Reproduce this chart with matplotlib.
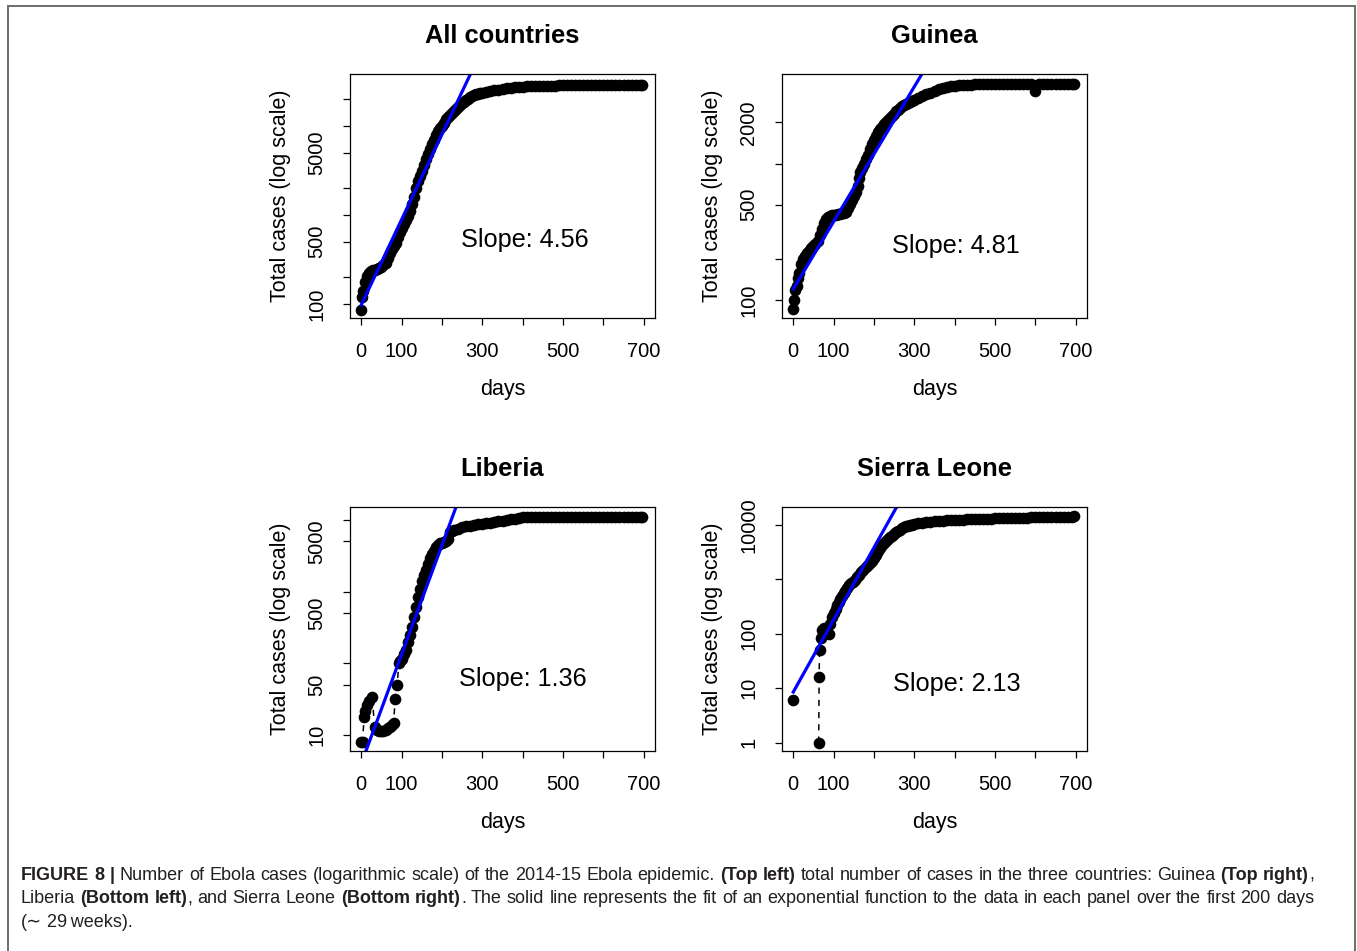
import numpy as np
import matplotlib
matplotlib.use('Agg')
import matplotlib.pyplot as plt
from matplotlib.patches import Rectangle

plt.rcParams['font.family'] = ['Liberation Sans', 'DejaVu Sans']

# panel titles and the slope printed in each panel
titles = ['All countries', 'Guinea', 'Liberia', 'Sierra Leone']
slopes = ['4.56', '4.81', '1.36', '2.13']

# all countries (top left)
days_all = [0, 2, 5, 10, 15, 20, 25, 30, 35, 40, 45, 50, 55, 60, 65, 70, 75, 80, 85, 90,
            95, 100, 105, 110, 115, 120, 125, 130, 135, 140, 145, 150, 155, 160, 165, 170,
            175, 180, 185, 190, 195, 200, 205, 210, 215, 220, 225, 230, 235, 240, 245, 250,
            255, 260, 265, 270, 275, 280, 285, 290, 295, 300, 310, 320, 330, 340, 350, 360,
            370, 380, 390, 400, 410, 420, 430, 440, 450, 460, 470, 480, 490, 500, 510, 520,
            530, 540, 550, 560, 570, 580, 590, 600, 610, 620, 630, 640, 650, 660, 670, 680,
            690, 697]
cases_all = [86, 119, 140, 178, 205, 225, 232, 238, 243, 248, 252, 262, 272, 285, 330, 375,
             410, 445, 480, 560, 640, 710, 790, 870, 980, 1100, 1320, 1600, 1980, 2380, 2700,
             3100, 3650, 4200, 4800, 5500, 6300, 7000, 7800, 8700, 9400, 10000, 10700, 11900,
             12500, 13300, 14000, 14700, 15300, 16200, 17000, 17800, 18600, 19400, 20200,
             20900, 21500, 22000, 22500, 22900, 23300, 23600, 24000, 24500, 25000, 25500,
             25900, 26300, 26700, 27000, 27300, 27500, 27700, 27800, 27900, 28000, 28100,
             28200, 28250, 28300, 28350, 28400, 28420, 28440, 28460, 28480, 28500, 28510,
             28520, 28530, 28540, 28550, 28560, 28570, 28580, 28590, 28600, 28610, 28620,
             28630, 28640, 28650]

# Guinea (top right)
days_gn = [0, 2, 5, 8, 12, 15, 20, 25, 30, 35, 40, 45, 50, 55, 60, 65, 70, 75, 80, 85, 90,
           95, 100, 105, 110, 115, 120, 125, 130, 135, 140, 145, 150, 155, 160, 163, 165, 170,
           175, 180, 185, 190, 195, 200, 205, 210, 215, 220, 225, 230, 235, 240, 245, 250,
           255, 260, 265, 270, 275, 280, 285, 290, 295, 300, 310, 320, 330, 340, 350, 360,
           370, 380, 390, 400, 410, 420, 430, 440, 450, 460, 470, 480, 490, 500, 510, 520,
           530, 540, 550, 560, 570, 580, 590, 600, 610, 620, 630, 640, 650, 660, 670, 680,
           690, 697]
cases_gn = [86, 101, 120, 127, 145, 158, 185, 200, 210, 220, 230, 240, 250, 260, 272, 300,
            335, 365, 390, 405, 415, 420, 420, 422, 425, 428, 432, 435, 445, 470, 505, 540,
            575, 620, 680, 780, 870, 930, 1000, 1080, 1160, 1280, 1400, 1480, 1580, 1700,
            1780, 1850, 1930, 2010, 2080, 2160, 2240, 2320, 2400, 2470, 2550, 2620, 2680,
            2720, 2760, 2800, 2850, 2900, 3000, 3100, 3200, 3300, 3400, 3500, 3560, 3620,
            3660, 3700, 3720, 3740, 3760, 3770, 3780, 3785, 3790, 3795, 3800, 3800, 3800,
            3800, 3802, 3802, 3804, 3804, 3804, 3804, 3804, 3370, 3804, 3804, 3804, 3804,
            3805, 3805, 3805, 3806, 3806, 3806]

# Liberia (bottom left)
days_lr = [0, 3, 7, 10, 14, 20, 27, 33, 40, 45, 50, 55, 60, 65, 70, 75, 80, 84, 89, 93, 97,
           100, 105, 110, 115, 120, 125, 130, 135, 140, 145, 150, 155, 160, 165, 170, 175,
           180, 185, 190, 195, 200, 205, 210, 215, 220, 225, 230, 240, 250, 260, 270, 280,
           290, 300, 310, 320, 330, 340, 350, 360, 370, 380, 390, 400, 410, 420, 430, 440,
           450, 460, 470, 480, 490, 500, 510, 520, 530, 540, 550, 560, 570, 580, 590, 600,
           610, 620, 630, 640, 650, 660, 670, 680, 690, 697]
cases_lr = [8, 8, 18, 22, 26, 30, 34, 13, 12, 11.5, 11.5, 11.5, 12, 12.5, 13, 14, 15, 32, 50,
            100, 108, 115, 135, 155, 200, 250, 320, 440, 600, 850, 1100, 1400, 1700, 2000,
            2400, 2900, 3300, 3700, 4100, 4500, 4700, 4800, 4900, 5100, 5300, 6800, 6950,
            7100, 7400, 7800, 8050, 8250, 8450, 8650, 8800, 8950, 9100, 9300, 9450, 9650,
            9850, 10050, 10300, 10550, 10800, 11000, 11000, 11000, 11000, 11000, 11000,
            11000, 11000, 11000, 11000, 11000, 11000, 11000, 11000, 11000, 11000, 11000,
            11000, 11000, 11000, 11000, 11000, 11000, 11000, 11000, 11000, 11000, 11000,
            11000, 11000]

# Sierra Leone (bottom right), no reports between day 0 and day 63
days_sl = [0, 30, 63, 64, 65, 68, 72, 76, 80, 84, 88, 92, 97, 101, 105, 109, 113, 117, 121,
           125, 129, 134, 139, 144, 149, 154, 159, 164, 169, 174, 179, 184, 189, 194, 199,
           204, 209, 214, 219, 224, 229, 234, 239, 244, 249, 254, 259, 264, 269, 274, 279,
           284, 289, 294, 299, 310, 320, 330, 340, 350, 360, 370, 380, 390, 400, 410, 420,
           430, 440, 450, 460, 470, 480, 490, 500, 510, 520, 530, 540, 550, 560, 570, 580,
           590, 600, 610, 620, 630, 640, 650, 660, 670, 680, 690, 697]
cases_sl = [6, np.nan, 1, 16, 50, 82, 117, 126, 120, 105, 99, 150, 200, 238, 280, 340, 390,
            440, 490, 550, 620, 700, 770, 840, 910, 980, 1080, 1200, 1350, 1500, 1650, 1800,
            1980, 2200, 2500, 2850, 3250, 3750, 4300, 4700, 5100, 5450, 5900, 6350, 6800,
            7250, 7700, 8150, 8600, 9000, 9350, 9650, 9900, 10100, 10300, 10650, 10950,
            11200, 11400, 11600, 11800, 11950, 12100, 12250, 12350, 12450, 12550, 12650,
            12750, 12850, 12900, 12950, 13000, 13050, 13100, 13150, 13200, 13250, 13300,
            13350, 13400, 13500, 13600, 13700, 13800, 13850, 13900, 13950, 14000, 14050,
            14100, 14150, 14200, 14250, 14280]

# exponential fit over the first 200 days: value at day 0 and log10 growth per day
fit_start = [98, 121, 4.04, 8.5]
fit_rate = [0.00957, 0.00493, 0.0152, 0.01327]

x_ticks = [0, 100, 200, 300, 400, 500, 600, 700]
x_labels = ['0', '100', '', '300', '', '500', '', '700']
y_ticks = [[100, 200, 500, 1000, 2000, 5000, 10000, 20000],
           [100, 200, 500, 1000, 2000],
           [10, 50, 100, 500, 1000, 5000, 10000],
           [1, 10, 100, 1000, 10000]]
y_labels = [['100', '', '500', '', '', '5000', '', ''],
            ['100', '', '500', '', '2000'],
            ['10', '50', '', '500', '', '5000', ''],
            ['1', '10', '100', '', '10000']]

caption = [
    [('FIGURE 8 |', True),
     (' Number of Ebola cases (logarithmic scale) of the 2014-15 Ebola epidemic. ', False),
     ('(Top left)', True),
     (' total number of cases in the three countries: Guinea ', False),
     ('(Top right)', True), (',', False)],
    [('Liberia ', False), ('(Bottom left)', True), (', and Sierra Leone ', False),
     ('(Bottom right)', True),
     ('. The solid line represents the fit of an exponential function to the data in each '
      'panel over the first 200 days', False)],
    [('(\u223c 29\u2009weeks).', False)],
]

W, H = 1357, 951
fig = plt.figure(figsize=(W / 100, H / 100), dpi=100)

series = [(days_all, cases_all), (days_gn, cases_gn), (days_lr, cases_lr), (days_sl, cases_sl)]
corner = [(350, 74), (782, 74), (350, 507), (782, 507)]
ylims = [(69.7, 38100), (74.3, 4510), (6.04, 15000), (0.70, 21300)]
slope_pos = [(0.572, 0.321), (0.570, 0.297), (0.568, 0.295), (0.573, 0.276)]

for i in range(4):
    x0, y0 = corner[i]
    ax = fig.add_axes([x0 / W, 1 - (y0 + 244) / H, 305 / W, 244 / H])
    d, c = series[i]
    ax.plot(d, c, color='black', linestyle=(0, (4, 4)), linewidth=1.1,
            marker='o', markersize=8.4, markeredgewidth=0)
    fx = np.array([0, 700])
    ax.plot(fx, fit_start[i] * 10 ** (fit_rate[i] * fx), color='#0000ff', linewidth=2.3)
    ax.set_yscale('log')
    ax.set_xlim(-28, 728)
    ax.set_ylim(*ylims[i])
    ax.set_xticks(x_ticks, x_labels)
    ax.set_yticks(y_ticks[i], y_labels[i], rotation=90, va='center')
    ax.yaxis.set_minor_locator(plt.NullLocator())
    ax.tick_params(direction='out', length=5, width=0.9, labelsize=14.5)
    ax.tick_params(axis='x', pad=12)
    ax.tick_params(axis='y', pad=12)
    for s in ax.spines.values():
        s.set_linewidth(0.9)
    ax.set_title(titles[i], fontsize=18.4, fontweight='bold', pad=22)
    ax.set_xlabel('days', fontsize=15.5, va='center')
    ax.xaxis.set_label_coords(0.5, -0.295)
    ax.set_ylabel('Total cases (log scale)', fontsize=15.5, va='center')
    ax.yaxis.set_label_coords(-0.2295, 0.5)
    ax.text(slope_pos[i][0], slope_pos[i][1], 'Slope: ' + slopes[i],
            transform=ax.transAxes, ha='center', va='center', fontsize=18.2)

# caption, drawn word by word so bold and regular parts can share a justified line
renderer = fig.canvas.get_renderer()
cap_left, cap_right = 21, 1314
cap_base = [880, 903.3, 926.7]
cap_color = '#231f20'


def make_tokens(parts):
    out, prev_space = [], True
    for txt, bold in parts:
        for k, w in enumerate(txt.split(' ')):
            if w:
                out.append((w, bold, k == 0 and bool(out) and not prev_space))
        prev_space = txt.endswith(' ')
    return out


def word_widths(tokens, size):
    ws = []
    for w, bold, glue in tokens:
        t = fig.text(0, 0, w, fontsize=size, fontweight='bold' if bold else 'normal')
        ws.append(t.get_window_extent(renderer).width)
        t.remove()
    return ws


def space_px(size):
    return 0.278 * size * 100 / 72


lines = [make_tokens(p) for p in caption]
base = 12.0
ws0 = word_widths(lines[0], base)
ngap0 = sum(1 for t in lines[0][1:] if not t[2])
natural = sum(ws0) + ngap0 * space_px(base)
cap_size = base * (cap_right - cap_left) / natural

for li, toks in enumerate(lines):
    ws = word_widths(toks, cap_size)
    ngap = sum(1 for t in toks[1:] if not t[2])
    if li < 2 and ngap > 0:
        gap = (cap_right - cap_left - sum(ws)) / ngap
    else:
        gap = space_px(cap_size)
    x = cap_left
    for k, (w, bold, glue) in enumerate(toks):
        if k > 0 and not glue:
            x += gap
        fig.text(x / W, 1 - cap_base[li] / H, w, fontsize=cap_size, va='baseline', ha='left',
                 fontweight='bold' if bold else 'normal', color=cap_color)
        x += ws[k]

fig.add_artist(Rectangle((7.5 / W, -0.05), (1355 - 7.5) / W, 1.05 - 6 / H,
                         transform=fig.transFigure, fill=False, edgecolor='#6d6d6d',
                         linewidth=1.4))

fig.savefig('out.png', dpi=100)
